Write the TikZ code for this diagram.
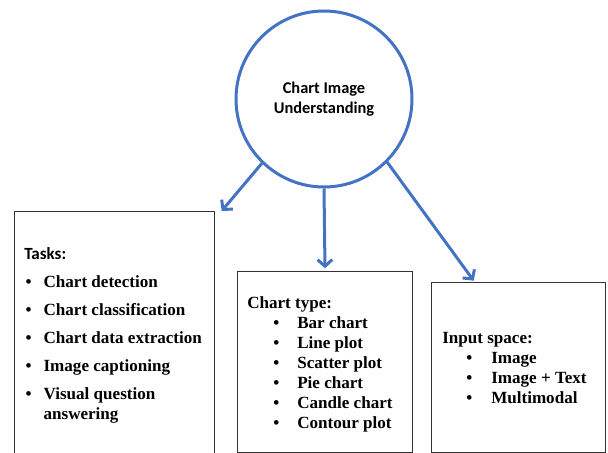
\documentclass[tikz,border=0pt]{standalone}
\usepackage{fontspec}
\setmainfont{Liberation Serif}
\newfontfamily\calib{Carlito}
\usetikzlibrary{arrows.meta,positioning}
\definecolor{officeblue}{HTML}{4472C4}
\newcommand{\litem}[3]{\hspace*{#1}\rlap{\textbullet}\hspace*{#2}#3}

\begin{document}
\begin{tikzpicture}[x=0.75pt, y=-0.75pt,
    hub/.style={circle, draw=officeblue, line width=2.25pt, minimum size=132pt, inner sep=0pt,
      align=center, font=\calib\bfseries\fontsize{12.3}{15}\selectfont},
    panel/.style={draw=black!80, line width=0.75pt, anchor=north west, inner sep=0pt},
    itemlist/.style={anchor=base west, align=left, inner sep=0pt, font=\bfseries\fontsize{12.8}{15}\selectfont},
    link/.style={draw=officeblue, line width=2.25pt, -{Straight Barb[length=5pt,width=11pt]}}]
  \useasboundingbox (0,0) rectangle (608,453);
  \clip (0,0) rectangle (608,453);

  \node [hub] (hub) at (324,99) {Chart Image\\Understanding};

  \node [panel, minimum width=150pt, minimum height=194.25pt] (tasks) at (14,211) {};
  \node [panel, minimum width=131.25pt, minimum height=135.75pt] (types) at (237,271) {};
  \node [panel, minimum width=130.5pt, minimum height=127.5pt] (inputs) at (431,282) {};

  % base of a multi-line node is its last line
  \node [itemlist] (tasklist) at (24,419) {%
    {\calib Tasks:}\\[6pt]
    \litem{1pt}{13.5pt}{Chart detection}\\[6pt]
    \litem{1pt}{13.5pt}{Chart classification}\\[6pt]
    \litem{1pt}{13.5pt}{Chart data extraction}\\[6pt]
    \litem{1pt}{13.5pt}{Image captioning}\\[6pt]
    \litem{1pt}{13.5pt}{Visual question}\\
    \hspace*{14.5pt}answering};
  \node [itemlist] (typelist) at (247,428) {%
    Chart type:\\
    \litem{19.5pt}{18pt}{Bar chart}\\
    \litem{19.5pt}{18pt}{Line plot}\\
    \litem{19.5pt}{18pt}{Scatter plot}\\
    \litem{19.5pt}{18pt}{Pie chart}\\
    \litem{19.5pt}{18pt}{Candle chart}\\
    \litem{19.5pt}{18pt}{Contour plot}};
  \node [itemlist] (inputlist) at (442,403) {%
    Input space:\\
    \litem{18pt}{18.75pt}{Image}\\
    \litem{18pt}{18.75pt}{Image + Text}\\
    \litem{18pt}{18.75pt}{Multimodal}};

  \coordinate (tasksin) at ([xshift=5pt]tasks.north east);
  \coordinate (typesin) at ([yshift=2pt]types.north);
  \coordinate (inputsin) at ([xshift=32pt,yshift=1pt]inputs.north west);

  \draw [link] (hub.-134) -- (tasksin);
  \draw [link] (hub.south) -- (typesin);
  \draw [link] (hub.-45) -- (inputsin);
\end{tikzpicture}
\end{document}
